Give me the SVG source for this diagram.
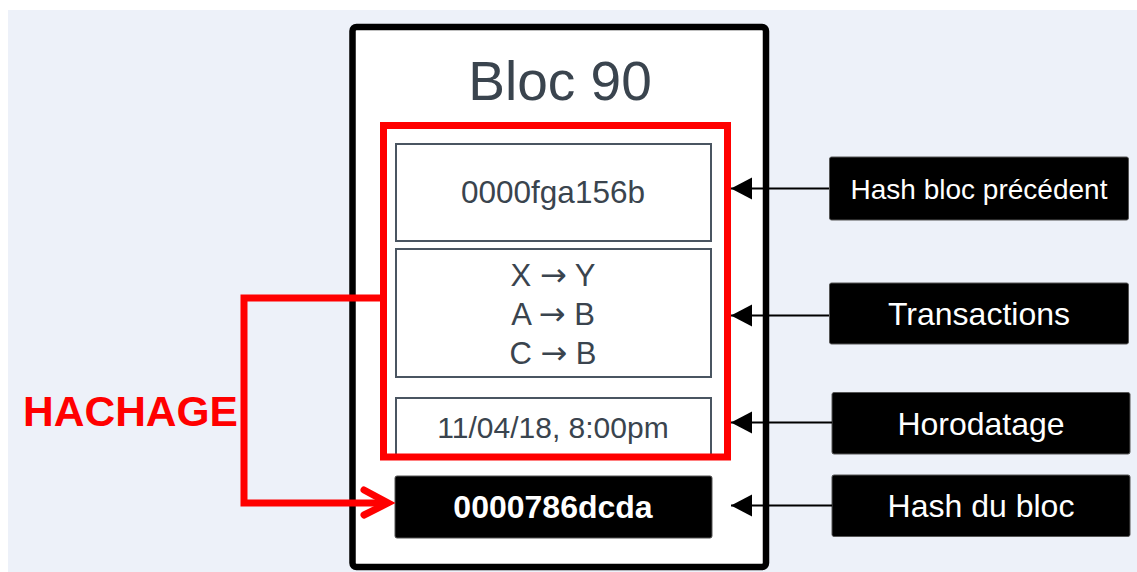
<svg xmlns="http://www.w3.org/2000/svg" width="1137" height="572" viewBox="0 0 1137 572">
<defs>
<style>
.txt{font-family:"Liberation Sans",Arial,sans-serif;text-anchor:middle}
.dark{fill:#3a444e}
.arr{font-family:"DejaVu Sans",sans-serif;font-size:32px}
.field{fill:#ffffff;stroke:#4a5561;stroke-width:2}
.lab{fill:#000000;stroke:#555555;stroke-width:1}
.labt{fill:#ffffff}
.conn{stroke:#000000;stroke-width:2;fill:none}
.red{stroke:#ff0000;stroke-width:7;fill:none}
</style>
<marker id="ah" markerWidth="22" markerHeight="24" refX="21" refY="12" orient="auto" markerUnits="userSpaceOnUse">
<path d="M0,1 L21,12 L0,23 Z" fill="#000000"/>
</marker>
</defs>
<rect x="0" y="0" width="1137" height="572" fill="#ffffff"/>
<rect x="8" y="10" width="1129" height="562" fill="#edf1f9"/>

<g id="bloc">
<rect x="352.5" y="27" width="413.5" height="540" rx="4" fill="#ffffff" stroke="#000000" stroke-width="6.5"/>
<text class="txt dark" x="560" y="100" font-size="55">Bloc 90</text>
</g>

<g id="field-prev-hash">
<rect class="field" x="396" y="144" width="315" height="97"/>
<text class="txt dark" x="553" y="203" font-size="31.5">0000fga156b</text>
</g>

<g id="field-transactions">
<rect class="field" x="396" y="249" width="315" height="128"/>
<text class="txt dark" x="553" y="286" font-size="31">X <tspan class="arr">→</tspan> Y</text>
<text class="txt dark" x="553" y="325" font-size="31">A <tspan class="arr">→</tspan> B</text>
<text class="txt dark" x="553" y="364" font-size="31">C <tspan class="arr">→</tspan> B</text>
</g>

<g id="field-timestamp">
<rect class="field" x="396" y="398" width="315" height="60"/>
<text class="txt dark" x="553" y="438" font-size="30">11/04/18, 8:00pm</text>
</g>

<g id="hashed-group">
<rect x="383.5" y="125.5" width="344" height="331.5" fill="none" stroke="#ff0000" stroke-width="7"/>
</g>

<g id="field-hash">
<rect x="395" y="476" width="317" height="62" rx="2" fill="#000000" stroke="#555555" stroke-width="1"/>
<text class="txt" x="553" y="518" font-size="32" font-weight="bold" fill="#ffffff">0000786dcda</text>
</g>

<g id="label-prev-hash">
<rect class="lab" x="829.5" y="157" width="299" height="63" rx="2"/>
<text class="txt labt" x="979" y="199" font-size="28">Hash bloc précédent</text>
</g>
<g id="label-transactions">
<rect class="lab" x="829.5" y="283" width="299" height="61" rx="2"/>
<text class="txt labt" x="979" y="324.5" font-size="32">Transactions</text>
</g>
<g id="label-timestamp">
<rect class="lab" x="832" y="392.5" width="298" height="61.5" rx="2"/>
<text class="txt labt" x="981" y="434.5" font-size="32">Horodatage</text>
</g>
<g id="label-hash">
<rect class="lab" x="832" y="475" width="298" height="61.5" rx="2"/>
<text class="txt labt" x="981" y="517" font-size="32">Hash du bloc</text>
</g>

<g id="hachage-label">
<text class="txt" x="130.5" y="426" font-size="42.5" font-weight="bold" fill="#ff0000">HACHAGE</text>
</g>

<g id="connectors">
<line class="conn" x1="829" y1="188.5" x2="731" y2="188.5" marker-end="url(#ah)"/>
<line class="conn" x1="829" y1="315.5" x2="731" y2="315.5" marker-end="url(#ah)"/>
<line class="conn" x1="832" y1="422.5" x2="731" y2="422.5" marker-end="url(#ah)"/>
<line class="conn" x1="832" y1="505.5" x2="731" y2="505.5" marker-end="url(#ah)"/>
<path class="red" d="M383.5,298 H244 V503 H388"/>
<path class="red" d="M364,490 L388,503 L364,515" stroke-linecap="round" stroke-linejoin="miter"/>
</g>
</svg>
